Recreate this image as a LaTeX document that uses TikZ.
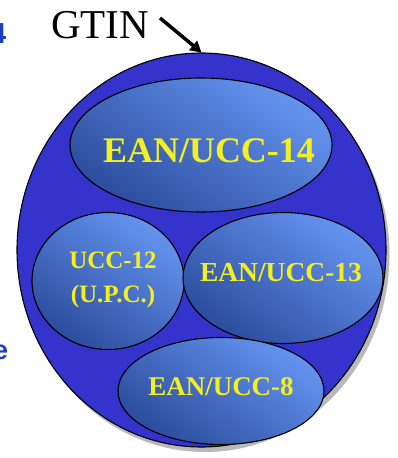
\documentclass[tikz,border=0pt]{standalone}
\usepackage{fontspec}
\setmainfont{Liberation Serif}
\usetikzlibrary{shapes.geometric,arrows.meta}
\definecolor{outerblue}{HTML}{3434CC}
\definecolor{lightb}{HTML}{6494F0}
\definecolor{darkb}{HTML}{2C4C9C}
\definecolor{labely}{HTML}{F4F020}
\definecolor{fragblue}{HTML}{1E3EC0}
\tikzset{
  inner/.style={ellipse, draw=black, line width=1.1pt, inner sep=0pt,
    top color=lightb, bottom color=darkb, shading angle=-35},
  lbl/.style={text=labely, inner sep=0pt, align=center},
  frag/.style={text=fragblue, inner sep=0pt, anchor=base west}
}
\begin{document}
\begin{tikzpicture}[x=1pt,y=-1pt]
\useasboundingbox (0,0) rectangle (398,458);
\begin{scope}
\clip (0,0) rectangle (398,458);
\node[frag, font=\fontspec{Liberation Sans}\bfseries\fontsize{29}{29}\selectfont] (f1) at (-10,43) {4};
\node[frag, font=\fontspec{Liberation Sans}\bfseries\fontsize{27}{27}\selectfont] (f2) at (-7,359) {e};
\end{scope}
% shadow
\fill[gray!55] (205,255) ellipse [x radius=184.5pt, y radius=197pt];
\node[ellipse, draw=black, line width=1.1pt, fill=outerblue, inner sep=0pt,
  minimum width=369pt, minimum height=394pt] (outer) at (201.5,250) {};
\node[inner, minimum width=262pt, minimum height=134pt] (e14) at (201,145) {};
\node[inner, minimum width=152pt, minimum height=137pt] (u12) at (108,281) {};
\node[inner, minimum width=200pt, minimum height=131pt] (e13) at (283,278) {};
\node[inner, minimum width=206pt, minimum height=107pt] (e8) at (221,391) {};
\node[lbl, font=\bfseries\fontsize{36}{36}\selectfont] (t14) at (209,151) {EAN/UCC-14};
\node[lbl, font=\bfseries\fontsize{25}{34}\selectfont] (t12) at (113,280) {UCC-12\\(U.P.C.)};
\node[lbl, font=\bfseries\fontsize{27.5}{27.5}\selectfont] (t13) at (281,273) {EAN/UCC-13};
\node[lbl, font=\bfseries\fontsize{27}{27}\selectfont] (t8) at (221,387) {EAN/UCC-8};
\node[font=\fontsize{41}{41}\selectfont, inner sep=0pt] (gtin) at (100,25) {GTIN};
\coordinate (a1) at (160,18);
\draw[line width=3.5pt, -{Triangle[length=11pt,width=12pt]}] (a1) -- (outer.north);
\end{tikzpicture}
\end{document}
